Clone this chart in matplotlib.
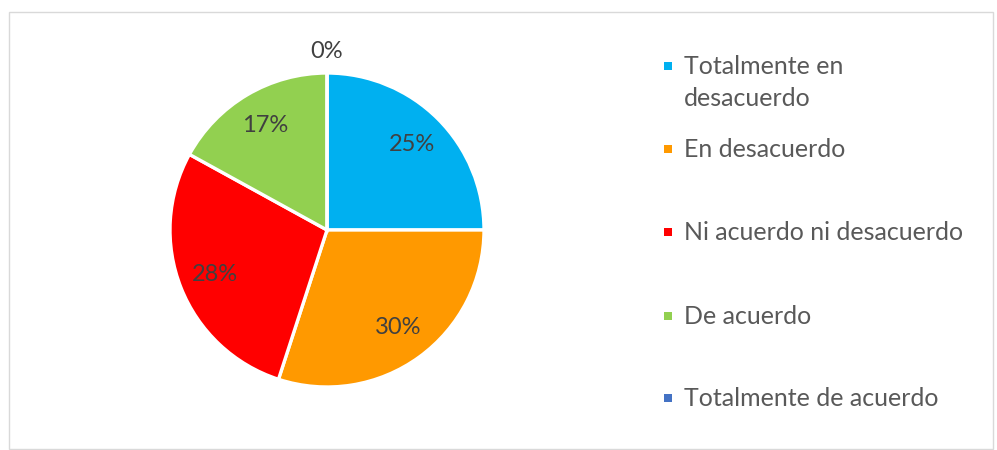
import matplotlib.pyplot as plt
from matplotlib.patches import Rectangle

plt.rcParams['font.family'] = ['Lato', 'DejaVu Sans']

# ================== data ==================
categories = ["Totalmente en\ndesacuerdo", "En desacuerdo", "Ni acuerdo ni desacuerdo",
              "De acuerdo", "Totalmente de acuerdo"]
percentages = [25, 30, 28, 17, 0]
colors = ["#00B0F0", "#FF9900", "#FF0000", "#92D050", "#4472C4"]

W, H = 997, 450
fig = plt.figure(figsize=(W / 100, H / 100), dpi=100)

# chart area border
fig.add_artist(Rectangle((9 / W, 1 / H), (993 - 9) / W, (449 - 12) / H,
                         transform=fig.transFigure, fill=False,
                         edgecolor="#D9D9D9", linewidth=1.0))

# pie axes: centre (327, 230) px, radius 157 px, limits +-1.2
cx, cy, r = 327, 230, 157
half = 1.2 * r
ax = fig.add_axes([(cx - half) / W, (H - cy - half) / H, 2 * half / W, 2 * half / H])

wedges, texts, autotexts = ax.pie(
    percentages, colors=colors, startangle=90, counterclock=False,
    autopct=lambda p: f"{p:.0f}%", pctdistance=0.77,
    wedgeprops=dict(edgecolor="white", linewidth=2.4),
    textprops=dict(color="#404040", fontsize=17))
ax.set_xlim(-1.2, 1.2)
ax.set_ylim(-1.2, 1.2)
ax.set_aspect('equal')

# empty slice: label sits outside, above the top
for w, t, v in zip(wedges, autotexts, percentages):
    if v == 0:
        t.set_position((0, 1.135))

# legend drawn by hand (first label wraps, marker aligned to first line)
text_x = 684 / W
mark_x = 664 / W
row_y = [66, 149, 232, 316, 398]
sq = 8
for label, col, yy in zip(categories, colors, row_y):
    fig.add_artist(Rectangle((mark_x, 1 - (yy + sq / 2) / H), sq / W, sq / H,
                             transform=fig.transFigure, facecolor=col,
                             edgecolor="none"))
    fig.text(text_x, 1 - (yy - 11) / H, label, ha='left', va='top',
             fontsize=18, color="#595959", linespacing=1.5)

plt.savefig("out.png", dpi=100)
